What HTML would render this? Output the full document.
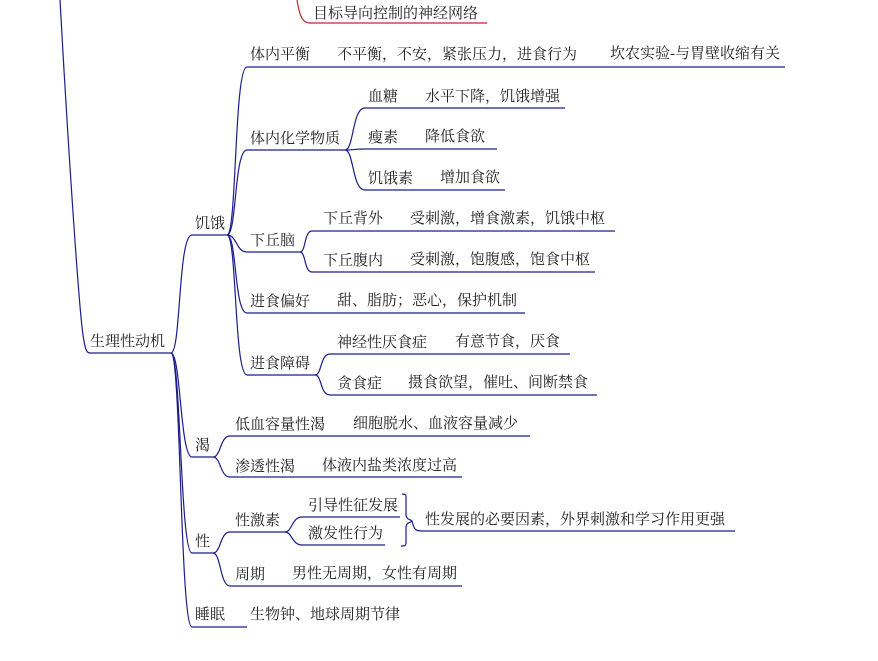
<!DOCTYPE html>
<html><head><meta charset="utf-8"><style>
html,body{margin:0;padding:0;background:#fff;width:878px;height:661px;overflow:hidden}
text{font-family:"Liberation Serif","Noto Serif CJK SC",serif;font-size:15px;fill:#222}
</style></head><body>
<svg width="878" height="661" xmlns="http://www.w3.org/2000/svg">
<g fill="none" stroke="#c0282d" stroke-width="1.2">
<path d="M297 0 C299 12 301 23 310 23 L487 23"/>
</g>
<g fill="none" stroke="#1c1c8a" stroke-width="1.2">
<path d="M60 0 C66 110 78 300 83 335 C85 348 86 353 90 353 L171 353"/>
<path d="M171 353 C181 353 178 235 192 235 L227 235"/>
<path d="M171 353 C181 353 180 457 192 457 L213 457"/>
<path d="M171 353 C181 353 180 553 192 553 L213 553"/>
<path d="M171 353 C181 353 180 627 192 627 L247 627"/>
<path d="M227 235 C237 235 234 67 247 67 L785 67"/>
<path d="M227 235 C237 235 234 150 247 150 L345 150"/>
<path d="M227 235 C237 235 236 252 247 252 L300 252"/>
<path d="M227 235 C237 235 234 313 247 313 L525 313"/>
<path d="M227 235 C237 235 234 375 247 375 L315 375"/>
<path d="M345 150 C354 150 352 108 365 108 L565 108"/>
<path d="M345 150 C354 150 354 149 365 149 L497 149"/>
<path d="M345 150 C354 150 352 190 365 190 L505 190"/>
<path d="M300 252 C306 252 304 231 312 231 L615 231"/>
<path d="M300 252 C306 252 304 272 312 272 L595 272"/>
<path d="M315 375 C322 375 320 354 330 354 L570 354"/>
<path d="M315 375 C322 375 320 395 330 395 L597 395"/>
<path d="M213 457 C221 457 220 436 230 436 L530 436"/>
<path d="M213 457 C221 457 220 477 230 477 L462 477"/>
<path d="M213 553 C221 553 220 532 230 532 L285 532"/>
<path d="M213 553 C221 553 220 586 230 586 L462 586"/>
<path d="M285 532 C292 532 292 517 302 517 L400 517"/>
<path d="M285 532 C292 532 292 545 302 545 L385 545"/>
<path d="M402 494 C407 494 406 496 406 500 L406 514 C406 520 410 519 412 521 C410 523 406 522 406 528 L406 542 C406 546 405 546 401 546"/>
<path d="M412 521 C414 530 416 531 422 531 L735 531"/>
</g>
<text x="313" y="18">目标导向控制的神经网络</text>
<text x="90" y="346">生理性动机</text>
<text x="195" y="228">饥饿</text>
<text x="195" y="450">渴</text>
<text x="195" y="546">性</text>
<text x="195" y="619">睡眠</text>
<text x="250" y="59">体内平衡</text>
<text x="337" y="59">不平衡，不安，紧张压力，进食行为</text>
<text x="610" y="58">坎农实验-与胃壁收缩有关</text>
<text x="250" y="143">体内化学物质</text>
<text x="368" y="101">血糖</text>
<text x="425" y="101">水平下降，饥饿增强</text>
<text x="368" y="142">瘦素</text>
<text x="425" y="141">降低食欲</text>
<text x="368" y="183">饥饿素</text>
<text x="440" y="182">增加食欲</text>
<text x="250" y="245">下丘脑</text>
<text x="323" y="223">下丘背外</text>
<text x="410" y="223">受刺激，增食激素，饥饿中枢</text>
<text x="323" y="265">下丘腹内</text>
<text x="410" y="264">受刺激，饱腹感，饱食中枢</text>
<text x="250" y="306">进食偏好</text>
<text x="337" y="305">甜、脂肪；恶心，保护机制</text>
<text x="250" y="368">进食障碍</text>
<text x="337" y="347">神经性厌食症</text>
<text x="455" y="346">有意节食，厌食</text>
<text x="337" y="388">贪食症</text>
<text x="408" y="387">摄食欲望，催吐、间断禁食</text>
<text x="235" y="429">低血容量性渴</text>
<text x="353" y="428">细胞脱水、血液容量减少</text>
<text x="235" y="471">渗透性渴</text>
<text x="322" y="470">体液内盐类浓度过高</text>
<text x="235" y="525">性激素</text>
<text x="308" y="510">引导性征发展</text>
<text x="308" y="538">激发性行为</text>
<text x="425" y="524">性发展的必要因素，外界刺激和学习作用更强</text>
<text x="235" y="579">周期</text>
<text x="292" y="578">男性无周期，女性有周期</text>
<text x="250" y="619">生物钟、地球周期节律</text>
</svg>
</body></html>
